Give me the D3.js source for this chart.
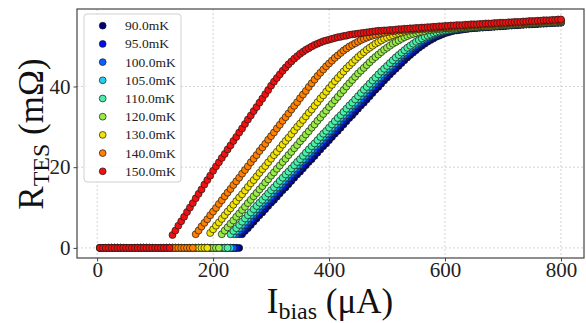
<!DOCTYPE html>
<html><head><meta charset="utf-8">
<script src="https://cdn.jsdelivr.net/npm/d3@7/dist/d3.min.js"></script>
<style>body{margin:0;background:#fff}svg{display:block}</style>
</head><body><svg id="c" width="586" height="323"></svg>
<script>
const temperatures = ["90.0mK","95.0mK","100.0mK","105.0mK","110.0mK","120.0mK","130.0mK","140.0mK","150.0mK"];
const xTicks = [0,200,400,600,800];
const yTicks = [0,20,40];
const biasCurrent = [
5,10,15,20,25,30,35,40,45,50, 55,60,65,70,75,80,85,90,95,100,
105,110,115,120,125,130,135,140,145,150, 155,160,165,170,175,180,185,190,195,200,
205,210,215,220,225,230,235,240,245,250, 255,260,265,270,275,280,285,290,295,300,
305,310,315,320,325,330,335,340,345,350, 355,360,365,370,375,380,385,390,395,400,
405,410,415,420,425,430,435,440,445,450, 455,460,465,470,475,480,485,490,495,500,
505,510,515,520,525,530,535,540,545,550, 555,560,565,570,575,580,585,590,595,600,
605,610,615,620,625,630,635,640,645,650, 655,660,665,670,675,680,685,690,695,700,
705,710,715,720,725,730,735,740,745,750, 755,760,765,770,775,780,785,790,795,800];
const r90 = [
0,0,0,0,0,0,0,0,0,0, 0,0,0,0,0,0,0,0,0,0, 0,0,0,0,0,0,0,0,0,0, 0,0,0,0,0,0,0,0,0,0,
0,0,0,0,0,0,0,0,0,3.4,
4.2,4.9,5.7,6.5,7.3,8.1,8.8,9.6,10.4,11.2,
11.9,12.7,13.5,14.3,15.0,15.8,16.6,17.4,18.2,18.9,
19.7,20.5,21.3,22.0,22.8,23.6,24.4,25.2,25.9,26.7,
27.5,28.3,29.0,29.8,30.6,31.4,32.2,32.9,33.7,34.5,
35.3,36.0,36.8,37.6,38.4,39.2,39.9,40.7,41.5,42.2,
43.0,43.7,44.4,45.1,45.8,46.5,47.2,47.8,48.4,49.0,
49.6,50.1,50.6,51.1,51.5,51.9,52.3,52.6,52.9,53.2,
53.4,53.6,53.8,53.9,54.0,54.1,54.2,54.3,54.4,54.5,
54.5,54.6,54.6,54.7,54.7,54.8,54.8,54.9,54.9,55.0,
55.0,55.1,55.1,55.2,55.2,55.3,55.3,55.4,55.4,55.4,
55.5,55.5,55.6,55.6,55.6,55.7,55.7,55.8,55.8,55.8];
const r95 = [
0,0,0,0,0,0,0,0,0,0, 0,0,0,0,0,0,0,0,0,0, 0,0,0,0,0,0,0,0,0,0, 0,0,0,0,0,0,0,0,0,0,
0,0,0,0,0,0,0,0,3.4,4.2,
4.9,5.7,6.5,7.3,8.1,8.8,9.6,10.4,11.2,11.9,
12.7,13.5,14.3,15.0,15.8,16.6,17.4,18.2,18.9,19.7,
20.5,21.3,22.0,22.8,23.6,24.4,25.2,25.9,26.7,27.5,
28.3,29.0,29.8,30.6,31.4,32.2,32.9,33.7,34.5,35.3,
36.0,36.8,37.6,38.4,39.2,39.9,40.7,41.5,42.2,43.0,
43.7,44.4,45.1,45.8,46.5,47.2,47.8,48.4,49.0,49.6,
50.1,50.6,51.1,51.5,51.9,52.3,52.6,52.9,53.2,53.4,
53.6,53.8,53.9,54.0,54.1,54.2,54.3,54.4,54.5,54.5,
54.6,54.6,54.7,54.7,54.8,54.8,54.9,54.9,55.0,55.0,
55.1,55.1,55.2,55.2,55.3,55.3,55.4,55.4,55.4,55.5,
55.5,55.6,55.6,55.6,55.7,55.7,55.8,55.8,55.8,55.9];
const r100 = [
0,0,0,0,0,0,0,0,0,0, 0,0,0,0,0,0,0,0,0,0, 0,0,0,0,0,0,0,0,0,0, 0,0,0,0,0,0,0,0,0,0,
0,0,0,0,0,0,0,3.4,4.2,4.9,
5.7,6.5,7.3,8.1,8.8,9.6,10.4,11.2,11.9,12.7,
13.5,14.3,15.0,15.8,16.6,17.4,18.2,18.9,19.7,20.5,
21.3,22.0,22.8,23.6,24.4,25.2,25.9,26.7,27.5,28.3,
29.0,29.8,30.6,31.4,32.2,32.9,33.7,34.5,35.3,36.0,
36.8,37.6,38.4,39.2,39.9,40.7,41.5,42.2,43.0,43.7,
44.4,45.1,45.8,46.5,47.2,47.8,48.4,49.0,49.6,50.1,
50.6,51.1,51.5,51.9,52.3,52.6,52.9,53.2,53.4,53.6,
53.8,53.9,54.0,54.1,54.2,54.3,54.4,54.5,54.5,54.6,
54.6,54.7,54.7,54.8,54.8,54.9,54.9,55.0,55.0,55.1,
55.1,55.2,55.2,55.3,55.3,55.4,55.4,55.4,55.5,55.5,
55.6,55.6,55.6,55.7,55.7,55.8,55.8,55.8,55.9,55.9];
const r105 = [
0,0,0,0,0,0,0,0,0,0, 0,0,0,0,0,0,0,0,0,0, 0,0,0,0,0,0,0,0,0,0, 0,0,0,0,0,0,0,0,0,0,
0,0,0,0,0,0,3.4,4.2,4.9,5.7,
6.5,7.3,8.1,8.8,9.6,10.4,11.2,11.9,12.7,13.5,
14.3,15.0,15.8,16.6,17.4,18.2,18.9,19.7,20.5,21.3,
22.0,22.8,23.6,24.4,25.2,25.9,26.7,27.5,28.3,29.0,
29.8,30.6,31.4,32.2,32.9,33.7,34.5,35.3,36.0,36.8,
37.6,38.4,39.2,39.9,40.7,41.5,42.2,43.0,43.7,44.4,
45.1,45.8,46.5,47.2,47.8,48.4,49.0,49.6,50.1,50.6,
51.1,51.5,51.9,52.3,52.6,52.9,53.2,53.4,53.6,53.8,
53.9,54.0,54.1,54.2,54.3,54.4,54.5,54.5,54.6,54.6,
54.7,54.7,54.8,54.8,54.9,54.9,55.0,55.0,55.1,55.1,
55.2,55.2,55.3,55.3,55.4,55.4,55.4,55.5,55.5,55.6,
55.6,55.6,55.7,55.7,55.8,55.8,55.8,55.9,55.9,56.0];
const r110 = [
0,0,0,0,0,0,0,0,0,0, 0,0,0,0,0,0,0,0,0,0, 0,0,0,0,0,0,0,0,0,0, 0,0,0,0,0,0,0,0,0,0,
0,0,0,0,0,3.4,4.2,4.9,5.7,6.5,
7.3,8.1,8.8,9.6,10.4,11.2,11.9,12.7,13.5,14.3,
15.0,15.8,16.6,17.4,18.2,18.9,19.7,20.5,21.3,22.0,
22.8,23.6,24.4,25.2,25.9,26.7,27.5,28.3,29.0,29.8,
30.6,31.4,32.2,32.9,33.7,34.5,35.3,36.0,36.8,37.6,
38.4,39.2,39.9,40.7,41.5,42.2,43.0,43.7,44.4,45.1,
45.8,46.5,47.2,47.8,48.4,49.0,49.6,50.1,50.6,51.1,
51.5,51.9,52.3,52.6,52.9,53.2,53.4,53.6,53.8,53.9,
54.0,54.1,54.2,54.3,54.4,54.5,54.5,54.6,54.6,54.7,
54.7,54.8,54.8,54.9,54.9,55.0,55.0,55.1,55.1,55.2,
55.2,55.3,55.3,55.4,55.4,55.4,55.5,55.5,55.6,55.6,
55.6,55.7,55.7,55.8,55.8,55.8,55.9,55.9,56.0,56.0];
const r120 = [
0,0,0,0,0,0,0,0,0,0, 0,0,0,0,0,0,0,0,0,0, 0,0,0,0,0,0,0,0,0,0, 0,0,0,0,0,0,0,0,0,0,
0,0,3.4,4.3,5.1,6.0,6.8,7.7,8.5,9.4,
10.2,11.1,11.9,12.8,13.6,14.5,15.3,16.2,17.0,17.9,
18.7,19.6,20.4,21.3,22.1,23.0,23.8,24.7,25.5,26.4,
27.2,28.1,28.9,29.8,30.6,31.5,32.3,33.2,34.0,34.9,
35.7,36.6,37.4,38.3,39.1,40.0,40.8,41.6,42.4,43.2,
43.9,44.6,45.3,46.0,46.7,47.3,47.9,48.5,49.1,49.6,
50.1,50.6,51.0,51.4,51.8,52.2,52.5,52.8,53.0,53.2,
53.4,53.6,53.7,53.9,54.0,54.1,54.2,54.3,54.3,54.4,
54.4,54.5,54.5,54.6,54.6,54.6,54.7,54.7,54.8,54.8,
54.8,54.9,54.9,55.0,55.0,55.0,55.1,55.1,55.2,55.2,
55.3,55.3,55.4,55.4,55.5,55.5,55.6,55.6,55.7,55.7,
55.7,55.8,55.8,55.9,55.9,55.9,56.0,56.0,56.1,56.1];
const r130 = [
0,0,0,0,0,0,0,0,0,0, 0,0,0,0,0,0,0,0,0,0, 0,0,0,0,0,0,0,0,0,0,
0,0,0,0,0,0,0,0,3.7,4.6,
5.5,6.3,7.2,8.1,9.0,9.8,10.7,11.6,12.5,13.3,
14.2,15.1,16.0,16.8,17.7,18.6,19.5,20.3,21.2,22.1,
23.0,23.8,24.7,25.6,26.5,27.3,28.2,29.1,30.0,30.8,
31.7,32.6,33.5,34.3,35.2,36.1,37.0,37.8,38.7,39.6,
40.4,41.3,42.1,42.9,43.7,44.5,45.2,45.9,46.6,47.3,
47.9,48.5,49.1,49.6,50.1,50.6,51.0,51.4,51.8,52.1,
52.4,52.7,53.0,53.2,53.4,53.6,53.8,53.9,54.0,54.1,
54.2,54.2,54.3,54.3,54.4,54.4,54.5,54.5,54.6,54.6,
54.6,54.7,54.7,54.8,54.8,54.8,54.9,54.9,55.0,55.0,
55.0,55.1,55.1,55.2,55.2,55.2,55.3,55.3,55.4,55.4,
55.4,55.5,55.5,55.6,55.6,55.6,55.7,55.7,55.8,55.8,
55.8,55.9,55.9,56.0,56.0,56.0,56.1,56.1,56.2,56.2];
const r140 = [
0,0,0,0,0,0,0,0,0,0, 0,0,0,0,0,0,0,0,0,0, 0,0,0,0,0,0,0,0,0,0,
0,0,0,3.4,4.3,5.3,6.2,7.1,8.1,9.0,
9.9,10.9,11.8,12.8,13.7,14.6,15.6,16.5,17.4,18.4,
19.3,20.2,21.2,22.1,23.0,24.0,24.9,25.8,26.8,27.7,
28.6,29.6,30.5,31.5,32.4,33.3,34.3,35.2,36.1,37.1,
38.0,38.9,39.9,40.8,41.7,42.6,43.4,44.2,45.0,45.7,
46.4,47.1,47.7,48.3,48.9,49.4,49.9,50.3,50.7,51.1,
51.5,51.8,52.1,52.4,52.6,52.8,53.0,53.2,53.3,53.5,
53.6,53.7,53.8,53.9,54.0,54.0,54.1,54.2,54.2,54.3,
54.3,54.4,54.4,54.5,54.5,54.6,54.6,54.7,54.7,54.8,
54.8,54.9,54.9,55.0,55.0,55.0,55.1,55.1,55.2,55.2,
55.2,55.3,55.3,55.4,55.4,55.4,55.5,55.5,55.6,55.6,
55.6,55.7,55.7,55.8,55.8,55.8,55.9,55.9,56.0,56.0,
56.0,56.1,56.1,56.2,56.2,56.2,56.3,56.3,56.4,56.4];
const r150 = [
0,0,0,0,0,0,0,0,0,0, 0,0,0,0,0,0,0,0,0,0,
0,0,0,0,0,3.2,4.3,5.5,6.6,7.7,
8.9,10.0,11.1,12.3,13.4,14.5,15.7,16.8,17.9,19.1,
20.2,21.2,22.3,23.3,24.4,25.4,26.5,27.5,28.6,29.6,
30.7,31.8,32.8,33.9,34.9,36.0,37.0,38.1,39.1,40.2,
41.2,42.1,43.0,43.9,44.7,45.5,46.2,46.9,47.5,48.1,
48.6,49.1,49.5,49.9,50.3,50.6,50.9,51.2,51.4,51.6,
51.8,52.0,52.2,52.3,52.5,52.6,52.8,52.9,53.0,53.1,
53.2,53.3,53.4,53.5,53.6,53.7,53.8,53.8,53.9,53.9,
54.0,54.0,54.1,54.2,54.2,54.3,54.3,54.4,54.4,54.5,
54.5,54.6,54.6,54.7,54.7,54.8,54.8,54.9,54.9,55.0,
55.0,55.1,55.1,55.2,55.2,55.2,55.3,55.3,55.4,55.4,
55.4,55.5,55.5,55.6,55.6,55.6,55.7,55.7,55.8,55.8,
55.8,55.9,55.9,56.0,56.0,56.0,56.1,56.1,56.2,56.2,
56.2,56.3,56.3,56.4,56.4,56.4,56.5,56.5,56.6,56.6];
const seriesValues = [r90,r95,r100,r105,r110,r120,r130,r140,r150];
const seriesColors = ["#00007f","#0010ee","#0a60ff","#1ed2ee","#48f0a8","#98ec48","#f2e400","#ff8000","#f01010"];

const svg = d3.select("#c");
const L=77, R=584, T=9, B=258;
const x = d3.scaleLinear().domain([-34.75, 839.75]).range([L, R]);
const y = d3.scaleLinear().domain([-2.5, 59.2]).range([B, T]);
const serif = "'Liberation Serif','Times New Roman',serif";

// grid
const g = svg.append("g");
g.selectAll("line.gx").data(xTicks).join("line")
  .attr("x1", d=>x(d)).attr("x2", d=>x(d)).attr("y1", T).attr("y2", B)
  .attr("stroke", "#c8c8c8").attr("stroke-width", 0.8).attr("stroke-dasharray", "2,2");
g.selectAll("line.gy").data(yTicks).join("line")
  .attr("y1", d=>y(d)).attr("y2", d=>y(d)).attr("x1", L).attr("x2", R)
  .attr("stroke", "#c8c8c8").attr("stroke-width", 0.8).attr("stroke-dasharray", "2,2");

// points
const clip = svg.append("clipPath").attr("id","clp").append("rect").attr("x",L).attr("y",T).attr("width",R-L).attr("height",B-T);
const pts = svg.append("g").attr("clip-path","url(#clp)");
seriesValues.forEach((vals, k) => {
  pts.append("g").selectAll("circle").data(vals.map((v,i)=>[biasCurrent[i], v])).join("circle")
    .attr("cx", d=>x(d[0])).attr("cy", d=>y(d[1])).attr("r", 3.5)
    .attr("fill", seriesColors[k]).attr("stroke", "#1a1a1a").attr("stroke-width", 0.7);
});

// frame
svg.append("rect").attr("x",L).attr("y",T).attr("width",R-L).attr("height",B-T)
  .attr("fill","none").attr("stroke","#444").attr("stroke-width",1.2);

// axes
const xAxis = svg.append("g").attr("transform",`translate(0,${B})`)
  .call(d3.axisBottom(x).tickValues(xTicks).tickSize(3.5).tickPadding(3).tickFormat(d3.format("d")));
const yAxis = svg.append("g").attr("transform",`translate(${L},0)`)
  .call(d3.axisLeft(y).tickValues(yTicks).tickSize(3.5).tickPadding(3).tickFormat(d3.format("d")));
[xAxis,yAxis].forEach(a=>{
  a.select(".domain").remove();
  a.selectAll(".tick line").attr("stroke","#444");
  a.selectAll("text").attr("font-family",serif).attr("font-size",21).attr("fill","#222");
});
xAxis.selectAll("text").attr("dy", null).attr("y", 19);

// axis titles
const xt = svg.append("text").attr("x", 330).attr("y", 313).attr("text-anchor","middle")
  .attr("font-family",serif).attr("font-size",35).attr("fill","#111");
xt.append("tspan").text("I");
xt.append("tspan").attr("font-size",24).attr("dy",6).text("bias");
xt.append("tspan").attr("dy",-6).text(" (μA)");

const yt = svg.append("text").attr("transform","translate(43,134) rotate(-90)").attr("text-anchor","middle")
  .attr("font-family",serif).attr("font-size",35).attr("fill","#111");
yt.append("tspan").text("R");
yt.append("tspan").attr("font-size",24).attr("dy",6).text("TES");
yt.append("tspan").attr("dy",-6).text(" (mΩ)");

// legend
const lg = svg.append("g");
lg.append("rect").attr("x",84).attr("y",14).attr("width",97).attr("height",168).attr("rx",3)
  .attr("fill","#fff").attr("fill-opacity",0.85).attr("stroke","#d0d0d0").attr("stroke-width",1);
temperatures.forEach((t,k)=>{
  const yy = 25.7 + k*18.2;
  lg.append("circle").attr("cx",102.7).attr("cy",yy).attr("r",3.4)
    .attr("fill",seriesColors[k]).attr("stroke","#1a1a1a").attr("stroke-width",0.7);
  lg.append("text").attr("x",125).attr("y",yy+4.5).attr("font-family",serif).attr("font-size",13.5)
    .attr("fill","#222").text(t);
});
</script></body></html>
